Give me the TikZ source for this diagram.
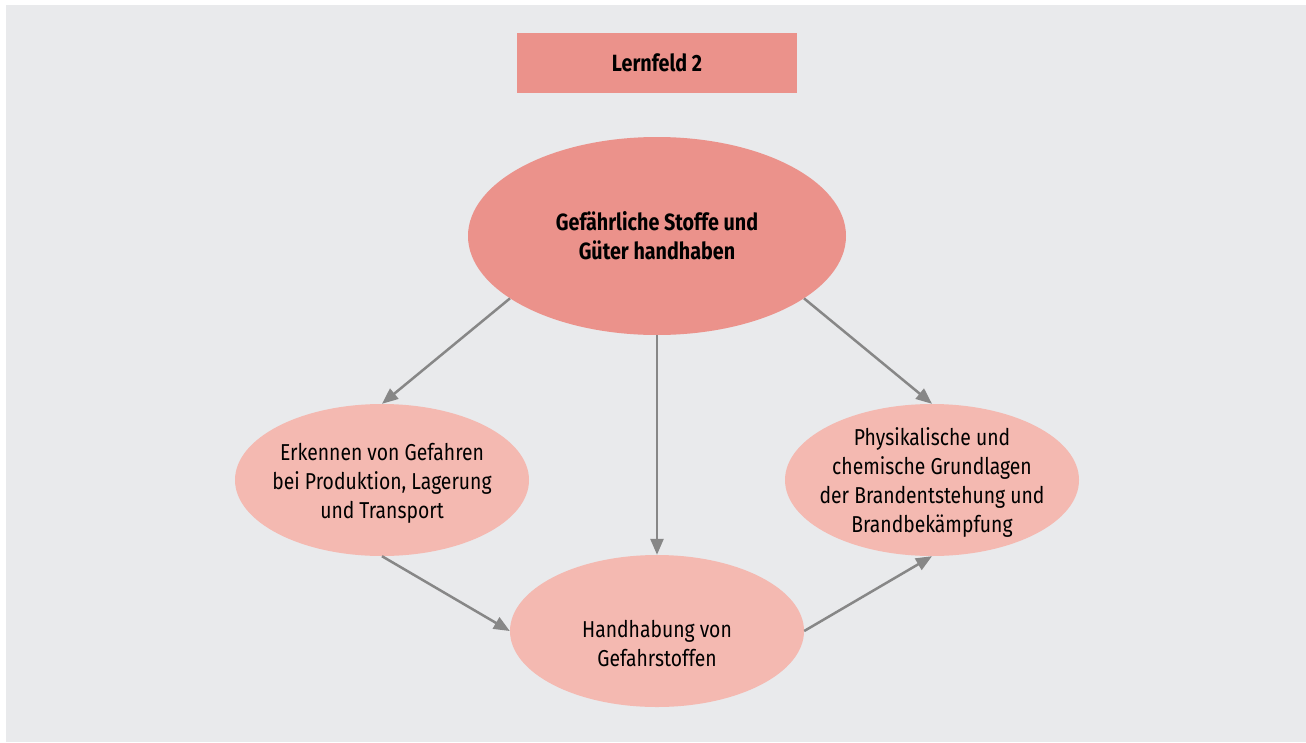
\documentclass[tikz,border=0pt]{standalone}
\usepackage{fontspec}
\setmainfont{Fira Sans}[FakeStretch=0.84]
\usetikzlibrary{shapes.geometric,arrows.meta}
\definecolor{bggrey}{HTML}{E9EAEC}
\definecolor{darksalmon}{HTML}{EB928B}
\definecolor{lightsalmon}{HTML}{F4B9B1}
\definecolor{arrowgrey}{HTML}{878787}
\tikzset{
  txt/.style={font=\fontsize{23}{29}\selectfont, align=center, text=black},
  boldtxt/.style={font=\fontsize{23.5}{29}\selectfont\bfseries, align=center, text=black},
  bigell/.style={ellipse, fill=darksalmon, minimum width=378pt, minimum height=198pt, inner sep=-15pt, boldtxt},
  smallell/.style={ellipse, fill=lightsalmon, minimum width=294pt, minimum height=152pt, inner sep=-15pt, txt},
  conn/.style={draw=arrowgrey, line width=2.5pt, -{Triangle[length=16pt,width=13pt]}}
}
\begin{document}
\begin{tikzpicture}[x=1pt,y=-1pt]
\useasboundingbox (0,0) rectangle (1306,742);
\fill[white] (0,0) rectangle (1306,742);
\fill[bggrey] (6,5) rectangle (1306,742);
\node[fill=darksalmon, minimum width=280pt, minimum height=60pt, inner sep=0pt, boldtxt] (lf) at (657,63) {Lernfeld 2};
\node[bigell] (top) at (657,236) {Gefährliche Stoffe und\\Güter handhaben};
\node[smallell] (left) at (382,480) {};
\node[txt] (lefttext) at (382,483) {Erkennen von Gefahren\\bei Produktion, Lagerung\\und Transport};
\node[smallell] (right) at (932,480) {};
\node[txt] (righttext) at (932,482) {Physikalische und\\chemische Grundlagen\\der Brandentstehung und\\Brandbekämpfung};
\node[smallell] (bottom) at (657,631) {};
\node[txt] (bottomtext) at (657,644) {Handhabung von\\Gefahrstoffen};
\draw[conn] (top.203) -- (left.north);
\draw[conn] (top.south) -- (bottom.north);
\draw[conn] (top.337) -- (right.north);
\draw[conn] (left.south) -- (bottom.west);
\draw[conn] (bottom.east) -- (right.south);
\end{tikzpicture}
\end{document}
